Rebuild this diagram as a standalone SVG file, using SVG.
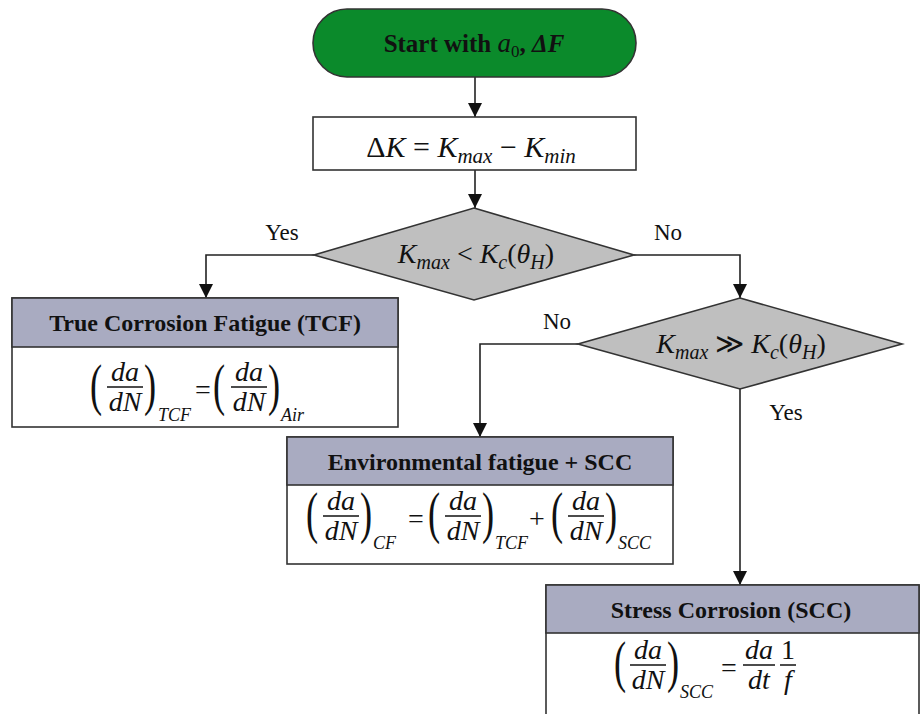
<svg xmlns="http://www.w3.org/2000/svg" width="921" height="714" viewBox="0 0 921 714">
<style>
.box{fill:#fff;stroke:#333;stroke-width:1.6}
.hdr{fill:#a9abc1;stroke:#333;stroke-width:1.6}
.dia{fill:#bfbfbf;stroke:#333;stroke-width:1.6}
.term{fill:#0b8a2b;stroke:#333;stroke-width:1.6}
text{font-family:"Liberation Serif","Times New Roman","DejaVu Serif",serif;fill:#111}
.ttl{font-weight:bold;font-size:24px;text-anchor:middle}
.mc{font-style:italic;font-size:28px;text-anchor:middle}
.sub{font-style:italic;font-size:18px}
.par{font-size:56px}
.op{font-size:28px;text-anchor:middle}
.lbl{font-size:23px;text-anchor:middle}
.fl{stroke:#111;stroke-width:1.5}
.cn{fill:none;stroke:#222;stroke-width:1.6}
</style>
<defs>
<marker id="ah" markerUnits="userSpaceOnUse" markerWidth="14" markerHeight="14" viewBox="0 0 14 14" refX="14" refY="7" orient="auto">
<path d="M0,0 L14,7 L0,14 z" fill="#111"/>
</marker>
</defs>

<g id="connectors">
<path class="cn" d="M475,77 V117" marker-end="url(#ah)"/>
<path class="cn" d="M475,170 V208" marker-end="url(#ah)"/>
<path class="cn" d="M314,255 H206 V298" marker-end="url(#ah)"/>
<path class="cn" d="M634,255 H740 V298" marker-end="url(#ah)"/>
<path class="cn" d="M578,344 H480 V437" marker-end="url(#ah)"/>
<path class="cn" d="M740,389 V585" marker-end="url(#ah)"/>
<text class="lbl" x="282" y="240">Yes</text>
<text class="lbl" x="668" y="240">No</text>
<text class="lbl" x="557" y="329">No</text>
<text class="lbl" x="786" y="420">Yes</text>
</g>

<g id="start">
<rect class="term" x="313" y="9" width="323" height="68" rx="34" ry="34"/>
<text x="474" y="52" style="font-size:25px;font-weight:bold;text-anchor:middle">Start with <tspan font-style="italic" font-weight="normal" font-size="27">a</tspan><tspan font-size="17" font-weight="normal" dy="5">0</tspan><tspan dy="-5">, </tspan><tspan font-style="italic">ΔF</tspan></text>
</g>

<g id="deltaK">
<rect class="box" x="313" y="117" width="323" height="53"/>
<text x="471" y="157" style="font-size:30px;text-anchor:middle">Δ<tspan font-style="italic">K</tspan> = <tspan font-style="italic">K</tspan><tspan font-style="italic" font-size="21" dy="6">max</tspan><tspan dy="-6"> − </tspan><tspan font-style="italic">K</tspan><tspan font-style="italic" font-size="21" dy="6">min</tspan></text>
</g>

<g id="decision1">
<polygon class="dia" points="474,208 634,255 474,300 314,255"/>
<text x="476" y="263" style="font-size:28px;text-anchor:middle"><tspan font-style="italic">K</tspan><tspan font-style="italic" font-size="20" dy="6">max</tspan><tspan dy="-6"> &lt; </tspan><tspan font-style="italic">K</tspan><tspan font-style="italic" font-size="20" dy="6">c</tspan><tspan dy="-6">(</tspan><tspan font-style="italic">θ</tspan><tspan font-style="italic" font-size="20" dy="6">H</tspan><tspan dy="-6">)</tspan></text>
</g>

<g id="decision2">
<polygon class="dia" points="740,298 902,344 740,389 578,344"/>
<text x="741" y="353" style="font-size:28px;text-anchor:middle"><tspan font-style="italic">K</tspan><tspan font-style="italic" font-size="20" dy="6">max</tspan><tspan dy="-6"> ≫ </tspan><tspan font-style="italic">K</tspan><tspan font-style="italic" font-size="20" dy="6">c</tspan><tspan dy="-6">(</tspan><tspan font-style="italic">θ</tspan><tspan font-style="italic" font-size="20" dy="6">H</tspan><tspan dy="-6">)</tspan></text>
</g>

<g id="tcf">
<rect class="box" x="12" y="298" width="386" height="129"/>
<rect class="hdr" x="12" y="298" width="386" height="49"/>
<text class="ttl" x="205" y="331">True Corrosion Fatigue (TCF)</text>
<text class="par" transform="translate(90,404) scale(0.65,1)">(</text>
<text class="mc" x="125" y="381">da</text>
<line class="fl" x1="107" y1="387" x2="143" y2="387"/>
<text class="mc" x="125" y="411">dN</text>
<text class="par" transform="translate(144,404) scale(0.65,1)">)</text>
<text class="sub" x="158" y="421">TCF</text>
<text class="op" x="203" y="399">=</text>
<text class="par" transform="translate(213,404) scale(0.65,1)">(</text>
<text class="mc" x="249" y="381">da</text>
<line class="fl" x1="231" y1="387" x2="267" y2="387"/>
<text class="mc" x="249" y="411">dN</text>
<text class="par" transform="translate(268,404) scale(0.65,1)">)</text>
<text class="sub" x="281" y="421">Air</text>
</g>

<g id="envfatigue">
<rect class="box" x="287" y="437" width="386" height="127"/>
<rect class="hdr" x="287" y="437" width="386" height="48"/>
<text class="ttl" x="480" y="470">Environmental fatigue + SCC</text>
<text class="par" transform="translate(306,532) scale(0.65,1)">(</text>
<text class="mc" x="341" y="510">da</text>
<line class="fl" x1="323" y1="516" x2="359" y2="516"/>
<text class="mc" x="341" y="540">dN</text>
<text class="par" transform="translate(360,532) scale(0.65,1)">)</text>
<text class="sub" x="373" y="549">CF</text>
<text class="op" x="416" y="528">=</text>
<text class="par" transform="translate(428,532) scale(0.65,1)">(</text>
<text class="mc" x="463" y="510">da</text>
<line class="fl" x1="445" y1="516" x2="481" y2="516"/>
<text class="mc" x="463" y="540">dN</text>
<text class="par" transform="translate(482,532) scale(0.65,1)">)</text>
<text class="sub" x="495" y="549">TCF</text>
<text class="op" x="537" y="528">+</text>
<text class="par" transform="translate(551,532) scale(0.65,1)">(</text>
<text class="mc" x="586" y="510">da</text>
<line class="fl" x1="568" y1="516" x2="604" y2="516"/>
<text class="mc" x="586" y="540">dN</text>
<text class="par" transform="translate(605,532) scale(0.65,1)">)</text>
<text class="sub" x="618" y="549">SCC</text>
</g>

<g id="scc">
<rect class="box" x="546" y="585" width="373" height="135"/>
<rect class="hdr" x="546" y="585" width="373" height="48"/>
<text class="ttl" x="731" y="618">Stress Corrosion (SCC)</text>
<text class="par" transform="translate(614,681) scale(0.65,1)">(</text>
<text class="mc" x="648" y="659">da</text>
<line class="fl" x1="630" y1="665" x2="666" y2="665"/>
<text class="mc" x="648" y="689">dN</text>
<text class="par" transform="translate(667,681) scale(0.65,1)">)</text>
<text class="sub" x="680" y="698">SCC</text>
<text class="op" x="729" y="677">=</text>
<text class="mc" x="759" y="659">da</text>
<line class="fl" x1="743" y1="665" x2="775" y2="665"/>
<text class="mc" x="759" y="689">dt</text>
<text class="op" x="788" y="659">1</text>
<line class="fl" x1="780" y1="665" x2="796" y2="665"/>
<text class="mc" x="788" y="689">f</text>
</g>
</svg>
